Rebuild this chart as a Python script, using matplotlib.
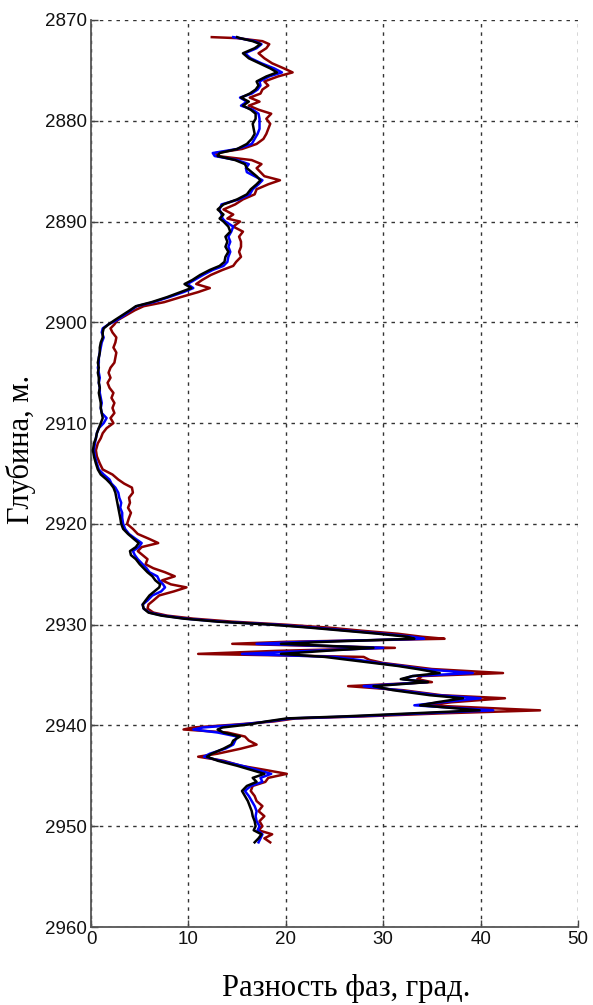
import matplotlib
matplotlib.use("Agg")
import matplotlib.pyplot as plt
import numpy as np

# Depth (m) and phase difference (deg) for three measurement channels
depth = [
    2871.7, 2871.8, 2872.1, 2872.4, 2872.8, 2873.3, 2873.8, 2874.3, 2874.8, 2875.2,
    2875.6, 2876.1, 2876.5, 2876.9, 2877.3, 2877.7, 2878.1, 2878.5, 2878.9, 2879.3,
    2879.8, 2880.3, 2880.8, 2881.3, 2881.8, 2882.3, 2882.8, 2883.2, 2883.5, 2883.9,
    2884.3, 2884.7, 2885.1, 2885.5, 2885.9, 2886.3, 2886.8, 2887.3, 2887.8, 2888.3,
    2888.8, 2889.3, 2889.7, 2890.0, 2890.5, 2891.0, 2891.5, 2892.0, 2892.5, 2893.0,
    2893.5, 2894.0, 2894.4, 2894.8, 2895.3, 2895.8, 2896.2, 2896.6, 2897.0, 2897.5,
    2898.0, 2898.4, 2898.8, 2899.3, 2899.8, 2900.2, 2900.6, 2901.0, 2901.5, 2902.0,
    2902.5, 2903.0, 2903.5, 2904.0, 2904.5, 2905.0, 2905.5, 2906.0, 2906.5, 2907.0,
    2907.5, 2908.0, 2908.5, 2909.0, 2909.5, 2910.0, 2910.5, 2911.0, 2911.5, 2912.0,
    2912.7, 2913.3, 2914.0, 2914.6, 2915.1, 2915.6, 2916.0, 2916.4, 2916.9, 2917.4,
    2917.9, 2918.4, 2918.9, 2919.4, 2920.0, 2920.5, 2921.0, 2921.5, 2921.9, 2922.3,
    2922.7, 2923.1, 2923.5, 2924.0, 2924.4, 2924.8, 2925.2, 2925.6, 2926.0, 2926.3,
    2926.7, 2927.1, 2927.6, 2928.0, 2928.4, 2928.8, 2929.1, 2929.4, 2929.7, 2930.0,
    2930.3, 2930.6, 2930.9, 2931.2, 2931.4, 2931.7, 2931.9, 2932.3, 2932.6, 2932.9,
    2933.2, 2933.5, 2933.8, 2934.1, 2934.4, 2934.8, 2935.1, 2935.4, 2935.7, 2936.1,
    2936.5, 2937.0, 2937.3, 2937.7, 2938.0, 2938.5, 2938.8, 2939.1, 2939.3, 2939.6,
    2939.9, 2940.2, 2940.4, 2940.7, 2941.1, 2941.5, 2941.9, 2942.3, 2942.8, 2943.1,
    2943.5, 2944.0, 2944.4, 2944.8, 2945.2, 2945.6, 2946.0, 2946.5, 2947.0, 2947.5,
    2948.0, 2948.5, 2949.0, 2949.5, 2950.0, 2950.4, 2950.8, 2951.2, 2951.6,
]

phase_black = [
    15.0, 15.3, 16.6, 17.4, 16.8, 15.6, 16.2, 17.3, 18.4, 19.1,
    18.0, 17.0, 17.2, 16.9, 16.3, 15.4, 16.2, 15.6, 16.4, 16.9,
    16.9, 16.6, 16.7, 16.8, 16.5, 16.0, 15.0, 13.2, 13.0, 14.8,
    15.8, 16.0, 16.5, 17.0, 17.4, 17.0, 16.4, 16.0, 15.0, 13.6,
    13.0, 13.6, 13.2, 13.6, 14.1, 14.3, 13.8, 14.0, 13.8, 14.1,
    13.8, 13.7, 13.2, 12.2, 11.2, 10.4, 9.6, 10.3, 9.2, 7.8,
    6.2, 4.6, 4.0, 3.2, 2.4, 1.8, 1.3, 1.2, 1.2, 1.0,
    0.9, 0.9, 0.8, 0.7, 0.8, 0.7, 0.8, 0.8, 0.9, 0.8,
    0.9, 1.0, 1.0, 1.1, 1.2, 1.0, 0.8, 0.6, 0.5, 0.3,
    0.2, 0.3, 0.5, 0.7, 1.0, 1.6, 2.0, 2.3, 2.5, 2.6,
    2.7, 2.8, 2.9, 3.0, 3.1, 3.3, 3.8, 4.4, 4.9, 4.6,
    4.0, 4.1, 4.6, 5.0, 5.4, 5.8, 6.3, 6.6, 7.1, 7.0,
    6.5, 6.0, 5.6, 5.3, 5.4, 5.9, 7.2, 9.5, 13.0, 18.5,
    22.5, 26.0, 29.5, 32.5, 33.2, 24.0, 19.5, 29.0, 24.0, 19.5,
    24.0, 26.5, 29.0, 31.5, 33.5, 35.8, 33.0, 31.8, 34.6, 29.0,
    31.0, 34.8, 38.2, 35.5, 33.8, 39.9, 33.0, 26.0, 20.1, 18.0,
    16.2, 13.5, 13.0, 13.6, 15.3, 14.6, 14.4, 13.6, 12.4, 11.9,
    13.0, 15.0, 16.4, 17.8, 16.6, 17.0, 16.0, 15.5, 15.8, 16.1,
    16.3, 16.5, 16.6, 16.8, 16.9, 16.7, 17.5, 17.2, 16.8,
]

phase_blue = [
    14.6, 15.2, 16.8, 17.5, 17.0, 15.8, 16.4, 17.5, 18.8, 19.6,
    18.3, 17.3, 17.4, 17.1, 16.5, 15.3, 16.0, 15.4, 16.6, 17.2,
    17.3, 17.3, 17.3, 17.1, 16.8, 16.5, 15.0, 12.5, 12.7, 15.0,
    16.2, 15.9, 16.0, 16.8, 17.6, 17.2, 16.6, 16.3, 15.2, 13.4,
    13.2, 13.4, 13.5, 13.8, 14.6, 14.4, 14.1, 14.3, 14.1, 14.3,
    14.1, 14.0, 13.6, 12.5, 11.5, 10.6, 9.9, 10.5, 9.5, 8.0,
    6.4, 4.7, 4.1, 3.4, 2.6, 1.8, 1.2, 1.1, 1.3, 1.1,
    1.0, 0.9, 0.8, 0.8, 0.7, 0.8, 0.9, 0.8, 0.9, 0.9,
    1.0, 1.1, 1.0, 1.1, 1.6, 1.3, 0.8, 0.6, 0.5, 0.4,
    0.3, 0.4, 0.6, 0.8, 1.3, 1.9, 2.1, 2.5, 2.8, 2.9,
    3.1, 3.0, 3.2, 3.2, 3.3, 3.5, 3.9, 4.6, 5.2, 4.9,
    4.3, 4.5, 4.8, 5.3, 5.7, 6.0, 6.8, 7.0, 7.4, 7.6,
    7.2, 6.3, 5.8, 5.3, 5.4, 6.0, 7.4, 9.7, 13.3, 19.0,
    23.0, 26.5, 30.0, 33.0, 34.2, 22.0, 17.0, 30.0, 22.5, 15.5,
    25.0, 27.5, 29.5, 32.0, 34.0, 39.2, 33.0, 32.0, 34.5, 28.0,
    31.5, 35.5, 40.0, 36.0, 33.2, 41.3, 34.0, 27.0, 20.5, 18.3,
    15.5, 11.5, 10.5, 13.0, 15.0, 14.8, 14.6, 13.8, 12.2, 11.6,
    13.3, 15.5, 17.0, 18.5, 17.4, 17.6, 16.4, 15.8, 16.2, 16.5,
    16.8, 17.0, 16.9, 17.0, 17.3, 17.1, 17.6, 17.4, 17.2,
]

phase_red = [
    12.4, 15.0, 17.6, 18.3, 18.0, 17.2, 17.8, 18.6, 19.8, 20.7,
    19.2, 17.8, 18.2, 17.6, 17.4, 16.3, 17.3, 16.2, 17.2, 18.5,
    18.0, 18.4, 18.2, 18.0, 17.7, 17.0, 15.5, 12.8, 13.0, 16.5,
    17.5, 17.0, 17.4, 17.8, 19.4, 18.2, 17.0, 16.8, 15.6, 14.8,
    13.6, 14.6, 14.0, 15.3, 14.6, 15.6, 15.2, 15.4, 15.4, 15.2,
    15.4, 14.9, 14.6, 13.5, 12.3, 11.4, 10.8, 12.2, 11.0, 9.2,
    7.5, 5.4, 4.5, 3.6, 2.7, 2.4, 2.0, 2.2, 2.6, 2.5,
    2.3, 2.6, 2.5, 2.4, 2.0, 1.8, 2.0, 1.7, 1.9, 2.3,
    2.1, 2.4, 2.2, 2.4, 2.0, 2.3, 1.6, 1.2, 1.0, 0.7,
    0.5, 0.6, 0.9, 1.2, 2.2, 2.8, 3.4, 4.2, 4.3, 3.9,
    4.0, 3.8, 4.1, 3.9, 3.7, 4.3, 4.8, 6.0, 6.9, 5.2,
    4.8, 5.3, 5.8, 5.6, 6.4, 7.6, 8.6, 7.3, 8.2, 9.8,
    8.5, 7.0, 6.4, 5.9, 5.8, 6.4, 7.8, 10.5, 14.5, 20.0,
    24.5, 27.8, 31.5, 34.0, 36.3, 20.0, 14.5, 31.2, 19.0, 11.0,
    28.0, 28.6, 30.0, 32.5, 35.0, 42.3, 34.0, 33.5, 35.0, 26.4,
    32.0, 36.0, 42.5, 37.0, 34.5, 46.1, 36.0, 28.0, 21.0, 18.8,
    15.0, 10.5, 9.5, 14.0, 15.8, 16.2, 17.0, 15.4, 13.0, 11.0,
    13.6, 15.4, 17.8, 20.1, 18.2, 17.9, 16.6, 16.4, 16.8, 17.0,
    17.6, 17.2, 17.8, 17.3, 17.6, 17.2, 18.6, 17.8, 18.4,
]

x_ticks = [0, 10, 20, 30, 40, 50]
y_ticks = [2870, 2880, 2890, 2900, 2910, 2920, 2930, 2940, 2950, 2960]

fig = plt.figure(figsize=(5.93, 10.05), dpi=100)
ax = fig.add_axes([0.1535, 0.0776, 0.8212, 0.9025])

ax.plot(phase_red, depth, color="#8b0000", lw=1.8, zorder=3)
ax.plot(phase_blue, depth, color="#0000ff", lw=1.8, zorder=4)
ax.plot(phase_black, depth, color="black", lw=1.8, zorder=5)

ax.set_xlim(0, 50)
ax.set_ylim(2960, 2870)
ax.set_xticks(x_ticks)
ax.set_yticks(y_ticks)

tick_font = {"family": "Liberation Sans", "size": 13.5}
ax.set_xticklabels([str(v) for v in x_ticks], fontdict=tick_font)
ax.set_yticklabels([str(v) for v in y_ticks], fontdict=tick_font)
ax.tick_params(direction="in", length=5, width=1, color="#444444", pad=3,
               labelcolor="#111111")

ax.grid(True, color="#333333", linestyle=(0, (2.5, 3.5)), linewidth=1.0, zorder=1)
ax.set_axisbelow(True)
for side in ("top", "right"):
    ax.spines[side].set_visible(False)
for side in ("left", "bottom"):
    ax.spines[side].set_color("#555555")
    ax.spines[side].set_linewidth(1.3)

label_font = {"family": "Liberation Serif", "size": 22}
ax.set_xlabel("Разность фаз, град.", fontdict=label_font)
ax.set_ylabel("Глубина, м.", fontdict=label_font)
ax.xaxis.set_label_coords(0.524, -0.052)
ax.yaxis.set_label_coords(-0.112, 0.526)

fig.savefig("out.png", dpi=100)
